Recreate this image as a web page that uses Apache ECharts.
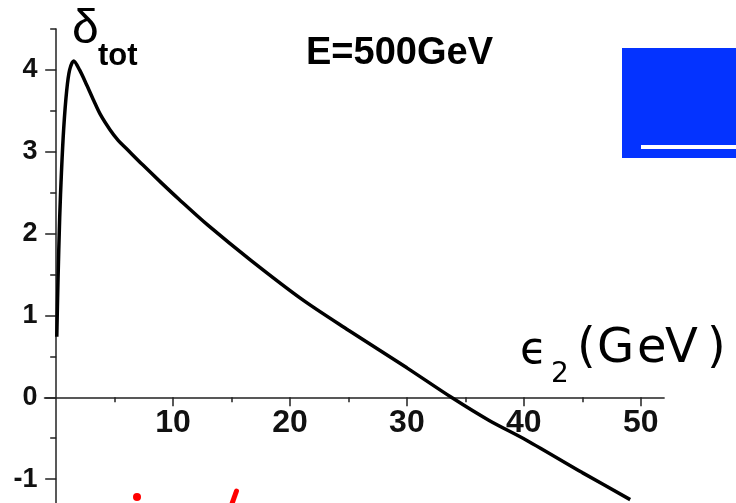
<!DOCTYPE html>
<html>
<head>
<meta charset="utf-8">
<script src="https://cdn.jsdelivr.net/npm/echarts@6/dist/echarts.min.js"></script>
<style>
  html, body { margin: 0; padding: 0; background: #fff; }
  #chart { width: 736px; height: 503px; }
</style>
</head>
<body>
<div id="chart"></div>
<script>
// 曲线数据 (ε2, δtot)
let epsValues = [0.05, 0.15, 0.3, 0.45, 0.65, 0.9, 1.15, 1.5, 2.0, 2.6, 3.2, 3.8, 4.6, 5.3, 6.0, 7.4, 9.0, 10.5, 13.0, 16.6, 21.0, 25.0, 30.0, 33.8, 37.0, 40.3, 45.0, 49.1]
let deltaValues = [0.74, 1.4, 2.2, 2.75, 3.3, 3.75, 4.0, 4.11, 4.0, 3.82, 3.63, 3.45, 3.27, 3.14, 3.04, 2.84, 2.62, 2.42, 2.1, 1.68, 1.2, 0.82, 0.36, 0.0, -0.28, -0.53, -0.92, -1.25]

// 刻度
let xMajorTicks = [10, 20, 30, 40, 50]
let xMinorTicks = [5, 10, 15, 20, 25, 30, 35, 40, 45, 50]
let yMajorTicks = [-2, -1, 0, 1, 2, 3, 4]
let yMinorTicks = [-2, -1.5, -1, -0.5, 0, 0.5, 1, 1.5, 2, 2.5, 3, 3.5, 4, 4.5]
let yLabels = [-1, 0, 1, 2, 3, 4]

let chart = echarts.init(document.getElementById('chart'), null, { renderer: 'canvas' })

let lineData = []
for (let i = 0; i < epsValues.length; i++) {
  lineData.push([epsValues[i], deltaValues[i]])
}

// 网格：y 从 -2 到 4.5，x 轴画在 y=0 处
let gridTop = 29
let gridHeight = 532
let yMin = -2
let yMax = 4.5
let xAxisOffset = -(gridHeight * (0 - yMin) / (yMax - yMin))

let axisColor = '#222'
let labelFont = {
  color: '#111',
  fontFamily: 'Liberation Sans',
  fontWeight: 'bold'
}

// 单个字符排开，模拟原图较宽的字距
let unitChars = [['(', 577], ['G', 597], ['e', 637], ['V', 665], [')', 707]]
let unitText = unitChars.map(function (c) {
  return { type: 'text', x: c[1], y: 350, style: { text: c[0], font: '48px "DejaVu Sans"', fill: '#000', verticalAlign: 'middle' } }
})

let option = {
  animation: false,
  backgroundColor: '#fff',
  grid: {
    left: 44.5,
    top: gridTop,
    width: 619.6,
    height: gridHeight,
    outerBoundsMode: 'none',
    containLabel: false
  },
  xAxis: [
    {
      type: 'value',
      min: -1,
      max: 52,
      offset: xAxisOffset,
      axisLine: { onZero: false, lineStyle: { color: axisColor, width: 1.5 } },
      axisTick: { show: true, inside: false, length: 5, customValues: xMinorTicks, lineStyle: { color: axisColor, width: 1.5 } },
      axisLabel: Object.assign({ fontSize: 32, margin: 10, customValues: xMajorTicks }, labelFont),
      splitLine: { show: false }
    },
    {
      type: 'value',
      min: -1,
      max: 52,
      position: 'bottom',
      offset: xAxisOffset,
      axisLine: { show: false, onZero: false },
      axisTick: { show: true, length: 9, customValues: xMajorTicks, lineStyle: { color: axisColor, width: 1.5 } },
      axisLabel: { show: false },
      splitLine: { show: false }
    }
  ],
  yAxis: [
    {
      type: 'value',
      min: yMin,
      max: yMax,
      axisLine: { show: true, onZero: true, lineStyle: { color: axisColor, width: 1.5 } },
      axisTick: { show: true, length: 6, customValues: yMinorTicks, lineStyle: { color: axisColor, width: 1.5 } },
      axisLabel: Object.assign({ fontSize: 27, margin: 7, customValues: yLabels }, labelFont),
      splitLine: { show: false }
    },
    {
      type: 'value',
      min: yMin,
      max: yMax,
      position: 'left',
      axisLine: { show: false, onZero: true },
      axisTick: { show: true, length: 11, customValues: yMajorTicks, lineStyle: { color: axisColor, width: 1.5 } },
      axisLabel: { show: false },
      splitLine: { show: false }
    }
  ],
  series: [
    {
      type: 'line',
      data: lineData,
      smooth: 0.3,
      showSymbol: false,
      clip: false,
      lineStyle: { color: '#000', width: 3.5 }
    }
  ],
  graphic: [
    // 蓝色方块
    { type: 'rect', shape: { x: 622, y: 48, width: 114, height: 110 }, style: { fill: '#0433ff' } },
    { type: 'rect', shape: { x: 641, y: 145, width: 95, height: 4 }, style: { fill: '#fff' } },
    // 红色手写残笔
    { type: 'circle', shape: { cx: 137, cy: 497, r: 4 }, style: { fill: '#ff0000' } },
    { type: 'line', shape: { x1: 236.5, y1: 491, x2: 231.5, y2: 505 }, style: { stroke: '#ff0000', lineWidth: 5, lineCap: 'round' } },
    // 标题文字
    { type: 'text', x: 72, y: 30, style: { text: 'δ', font: '48px "Liberation Sans"', fill: '#000', verticalAlign: 'middle' } },
    { type: 'text', x: 98, y: 56, style: { text: 'tot', font: 'bold 31px "Liberation Sans"', fill: '#000', verticalAlign: 'middle' } },
    { type: 'text', x: 306, y: 54, style: { text: 'E=500GeV', font: 'bold 38px "Liberation Sans"', fill: '#000', verticalAlign: 'middle' } },
    { type: 'text', x: 520, y: 352, style: { text: 'ϵ', font: '44px "DejaVu Sans"', fill: '#000', verticalAlign: 'middle' } },
    { type: 'text', x: 551, y: 375, style: { text: '2', font: '28px "DejaVu Sans"', fill: '#000', verticalAlign: 'middle' } }
  ].concat(unitText)
}

chart.setOption(option)
</script>
</body>
</html>
